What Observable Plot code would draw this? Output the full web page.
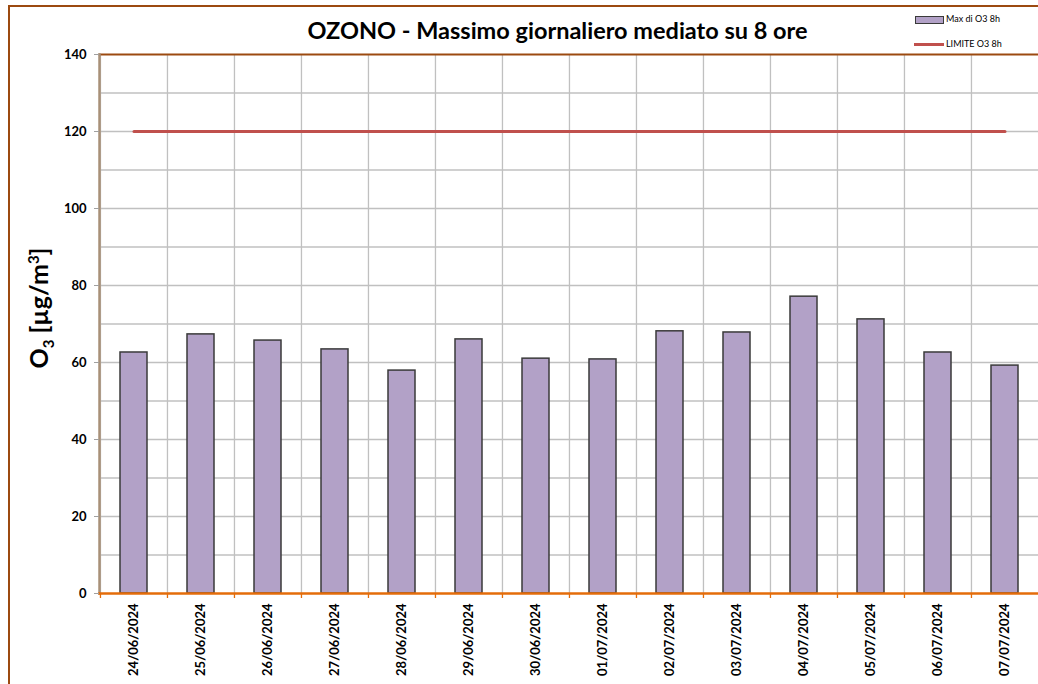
<!DOCTYPE html>
<html>
<head>
<meta charset="utf-8">
<script src="https://cdn.jsdelivr.net/npm/d3@7"></script>
<script src="https://cdn.jsdelivr.net/npm/@observablehq/plot@0.6"></script>
<style>
  body { margin: 0; background: #fff; }
  #wrap { position: relative; width: 1038px; height: 684px; overflow: hidden; font-family: Lato, "DejaVu Sans", sans-serif; }
  #wrap svg { position: absolute; left: 0; top: 0; }
  .title { position: absolute; left: 60px; width: 995px; top: 16px; text-align: center; font-weight: 700; font-size: 23.5px; color: #000; }
  .ylab { position: absolute; left: 40px; top: 308px; transform: translate(-50%, -50%) rotate(-90deg); font-weight: 700; font-size: 25px; white-space: nowrap; color: #000; }
  .ylab sub, .ylab sup { font-size: 15px; }
  .leg { position: absolute; font-size: 9px; color: #000; white-space: nowrap; }
  .frameL { position: absolute; left: 8px; top: 5px; width: 2px; height: 690px; background: #9c4a10; }
  .frameT { position: absolute; left: 8px; top: 5px; width: 1040px; height: 2px; background: #9c4a10; }
</style>
</head>
<body>
<div id="wrap"></div>
<script>
const dates = ["24/06/2024","25/06/2024","26/06/2024","27/06/2024","28/06/2024","29/06/2024","30/06/2024",
               "01/07/2024","02/07/2024","03/07/2024","04/07/2024","05/07/2024","06/07/2024","07/07/2024"];
const o3Max = [62.6, 67.3, 65.7, 63.4, 57.9, 66.0, 61.0, 60.8, 68.1, 67.8, 77.1, 71.2, 62.6, 59.2];
const limitO3 = [120, 120, 120, 120, 120, 120, 120, 120, 120, 120, 120, 120, 120, 120];
const yTicks = [0, 20, 40, 60, 80, 100, 120, 140];
const yGrid = [10, 20, 30, 40, 50, 60, 70, 80, 90, 100, 110, 120, 130];

const rows = dates.map((d, i) => ({date: d, value: o3Max[i], limit: limitO3[i]}));

const W = 1038, H = 684, mL = 99, mR = 0, mT = 54, mB = 91;
const step = (W - mL - mR) / dates.length;

const chart = Plot.plot({
  width: W, height: H,
  marginLeft: mL, marginRight: mR, marginTop: mT, marginBottom: mB,
  style: {fontFamily: "Lato, 'DejaVu Sans', sans-serif", color: "#000", background: "transparent"},
  x: {type: "band", domain: dates, padding: 0},
  y: {domain: [0, 140]},
  marks: [
    Plot.ruleY(yGrid, {stroke: "#c0c0c0", strokeWidth: 1.3}),
    Plot.ruleX(dates, {x: d => d, dx: -step / 2, stroke: "#c0c0c0", strokeWidth: 1.3}),
    Plot.barY(rows, {x: "date", y: "value", fill: "#b2a1c7", stroke: "#3a3a3a", strokeWidth: 1.5, insetLeft: 20, insetRight: 20}),
    Plot.lineY(rows, {x: "date", y: "limit", stroke: "#c0504d", strokeWidth: 3}),
    Plot.frame({anchor: "top", stroke: "#9c4a10", strokeWidth: 2}),
    Plot.frame({anchor: "left", stroke: "#a89078", strokeWidth: 2.5}),
    Plot.ruleX(dates, {x: d => d, dx: -step / 2, y1: 0, y2: 0, insetBottom: -5, stroke: "#e46c0a", strokeWidth: 1.3}),
    Plot.frame({anchor: "bottom", stroke: "#e46c0a", strokeWidth: 2.5}),
    Plot.axisY({ticks: yTicks, tickSize: 5, tickPadding: 8, stroke: "#a0a0a0", fontSize: 13, fontWeight: 700, label: null}),
    Plot.axisX({tickRotate: -90, tickSize: 0, tickPadding: 10, fontSize: 13, fontWeight: 700, label: null})
  ]
});

const wrap = document.getElementById("wrap");
wrap.appendChild(chart);

const frameL = document.createElement("div"); frameL.className = "frameL"; wrap.appendChild(frameL);
const frameT = document.createElement("div"); frameT.className = "frameT"; wrap.appendChild(frameT);

const title = document.createElement("div");
title.className = "title";
title.textContent = "OZONO - Massimo giornaliero mediato su 8 ore";
wrap.appendChild(title);

const ylab = document.createElement("div");
ylab.className = "ylab";
ylab.innerHTML = "O<sub>3</sub> [µg/m<sup>3</sup>]";
wrap.appendChild(ylab);

// legend
const sw = document.createElement("div");
Object.assign(sw.style, {position: "absolute", left: "915px", top: "16px", width: "27px", height: "6px", background: "#b2a1c7", border: "1px solid #3a3a3a"});
wrap.appendChild(sw);
const l1 = document.createElement("div"); l1.className = "leg"; l1.style.left = "946px"; l1.style.top = "13px"; l1.textContent = "Max di O3 8h"; wrap.appendChild(l1);
const ln = document.createElement("div");
Object.assign(ln.style, {position: "absolute", left: "914px", top: "43px", width: "30px", height: "3px", background: "#c0504d"});
wrap.appendChild(ln);
const l2 = document.createElement("div"); l2.className = "leg"; l2.style.left = "946px"; l2.style.top = "38px"; l2.textContent = "LIMITE O3 8h"; wrap.appendChild(l2);
</script>
</body>
</html>
